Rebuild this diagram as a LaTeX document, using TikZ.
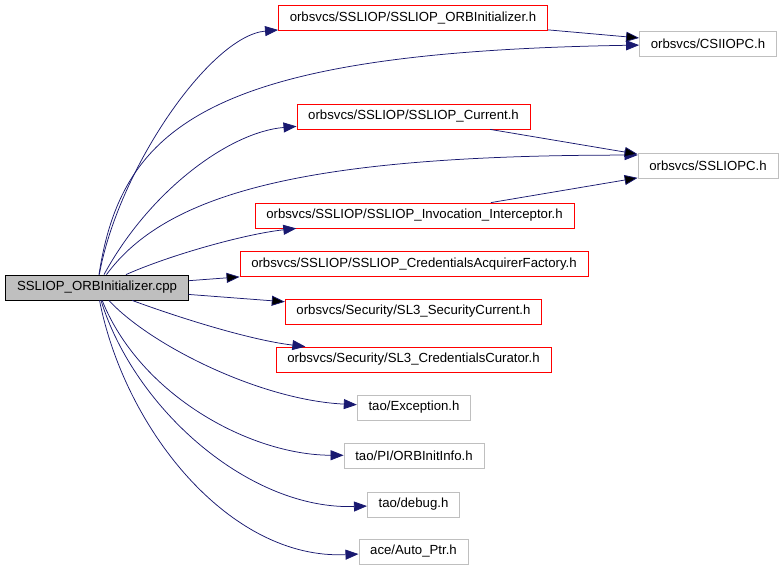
\documentclass[tikz,border=0pt]{standalone}
\usepackage{fontspec}
\setmainfont{Liberation Sans}
\usepackage{tikz}
\usetikzlibrary{arrows.meta}

\definecolor{edgeblue}{HTML}{191970}
\definecolor{boxgray}{HTML}{BFBFBF}

\begin{document}
\begin{tikzpicture}[x=1pt,y=-1pt,>={Triangle[length=13pt,width=10pt]},
   every node/.style={font=\fontsize{13.2}{15}\selectfont,inner xsep=11.3pt,
     inner ysep=0pt,minimum height=25pt,line width=0.8pt},
   root/.style={draw=black,fill=boxgray},
   local/.style={draw=red},
   extern/.style={draw=boxgray},
   dep/.style={->,draw=edgeblue,line width=0.75pt}]
   \useasboundingbox (0,0) rectangle (784,568);

   \node[root] (main) at (97,287.5) {SSLIOP\_ORBInitializer.cpp};

   \node[local] (orbinit)  at (413,18)    {orbsvcs/SSLIOP/SSLIOP\_ORBInitializer.h};
   \node[local] (current)  at (413.5,116.5) {orbsvcs/SSLIOP/SSLIOP\_Current.h};
   \node[local] (invoc)    at (414.5,215.5) {orbsvcs/SSLIOP/SSLIOP\_Invocation\_Interceptor.h};
   \node[local] (factory)  at (414,264)   {orbsvcs/SSLIOP/SSLIOP\_CredentialsAcquirerFactory.h};
   \node[local] (seccur)   at (413.5,311.5) {orbsvcs/Security/SL3\_SecurityCurrent.h};
   \node[local] (curator)  at (413.5,359.5) {orbsvcs/Security/SL3\_CredentialsCurator.h};
   \node[extern] (except)  at (414,407.5) {tao/Exception.h};
   \node[extern] (initinfo) at (414,455.5) {tao/PI/ORBInitInfo.h};
   \node[extern] (debug)   at (413.5,504.5) {tao/debug.h};
   \node[extern] (autoptr) at (413.5,551.5) {ace/Auto\_Ptr.h};

   \node[extern] (csiiopc) at (708,44)  {orbsvcs/CSIIOPC.h};
   \node[extern] (ssliopc) at (708,166) {orbsvcs/SSLIOPC.h};

   % upward curves
   \draw[dep] (main) .. controls (118,170) and (210,36) .. (orbinit);
   \draw[dep] (main) .. controls (122,125) and (210,52) .. (csiiopc);
   \draw[dep] (main) .. controls (150,190) and (230,132) .. (current);
   \draw[dep] (main) .. controls (165,195) and (300,155) .. ([yshift=-2pt]ssliopc.north west);
   \draw[dep] (main) .. controls (170,255) and (245,234) .. (invoc);

   % downward curves
   \draw[dep] (main) .. controls (180,318) and (250,340) .. (curator);
   \draw[dep] (main) .. controls (150,345) and (260,400) .. (except);
   \draw[dep] (main) .. controls (140,395) and (250,455) .. (initinfo);
   \draw[dep] (main) .. controls (135,410) and (250,510) .. (debug);
   \draw[dep] (main) .. controls (125,430) and (230,560) .. (autoptr);

   \path[dep]
   (main) edge (factory)
          edge (seccur)
   (orbinit) edge (csiiopc)
   (current) edge (ssliopc)
   (invoc) edge (ssliopc);
\end{tikzpicture}
\end{document}
